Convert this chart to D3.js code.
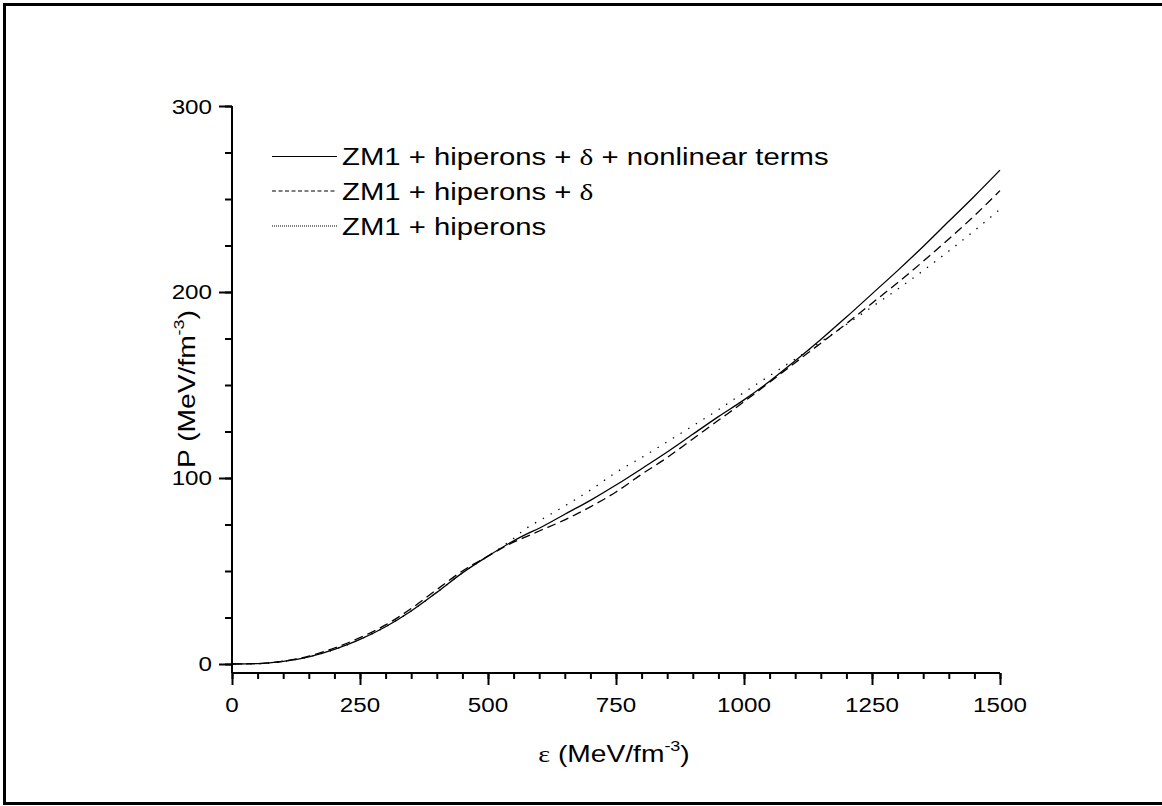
<!DOCTYPE html>
<html>
<head>
<meta charset="utf-8">
<script src="https://cdn.jsdelivr.net/npm/d3@7"></script>
<style>
  html, body { margin: 0; padding: 0; background: #fff; }
  svg { display: block; }
</style>
</head>
<body>
<svg id="chart" width="1162" height="806"></svg>
<script>
// ---- data ----
const energy = [0,50,100,150,200,250,300,350,400,450,500,550,575,600,650,700,750,800,850,900,950,1000,1050,1100,1150,1200,1250,1300,1350,1400,1450,1500];
const pNonlinear = [0,0.2,1.4,3.8,7.8,13.2,20,28.5,38.5,49,58,66.2,69.8,73,80.5,88,96.2,105,114,123.5,133,142,152,163,174.5,186.5,199,211.5,224.5,238,251.5,265.5];
const pDelta     = [0,0.2,1.5,4.2,8.6,14.2,21,29.8,40,50,58,65.5,68.5,71.5,77.5,84.5,92.5,102,111,121,131,141,151.5,162,172.5,183,194,205,216.5,228.5,241,254.5];
const pHyperons  = [0,0.2,1.4,3.8,7.8,13.2,20,28.5,38.5,49,58,67.5,73,77,85,93.5,103,111,119.5,128,136.7,146,155,164,173.2,182.5,192,201.5,211.5,222,233,244.5];
const seriesNames = ["ZM1 + hiperons + \u03b4 + nonlinear terms", "ZM1 + hiperons + \u03b4", "ZM1 + hiperons"];
const xTicks = [0,250,500,750,1000,1250,1500];
const yTicks = [0,100,200,300];

const svg = d3.select("#chart");
const sans = "'Liberation Sans', Arial, sans-serif";
const serif = "'Liberation Serif', 'Times New Roman', serif";

// outer frame
svg.append("rect").attr("x",4.5).attr("y",4.5).attr("width",1170).attr("height",799)
  .attr("fill","none").attr("stroke","#000").attr("stroke-width",3);

const x = d3.scaleLinear().domain([0,1500]).range([232,1000]);
const y = d3.scaleLinear().domain([-4.84,300]).range([673,106]);

// curves
const series = [
  {vals: pNonlinear, dash: null},
  {vals: pDelta, dash: "9,5"},
  {vals: pHyperons, dash: "1.4,7.6"}
];
const line = d3.line().x(d => x(d[0])).y(d => y(d[1])).curve(d3.curveMonotoneX);
series.forEach(s => {
  svg.append("path")
    .attr("d", line(energy.map((e,i) => [e, s.vals[i]])))
    .attr("fill","none").attr("stroke","#000").attr("stroke-width",1.3)
    .attr("stroke-dasharray", s.dash);
});

// stretched text helper (reference text is horizontally wide)
function wideText(px, py, anchor, size, sx, rot) {
  const tr = `translate(${px},${py})` + (rot ? ` rotate(${rot})` : "") + ` scale(${sx},1)`;
  return svg.append("text").attr("transform", tr).attr("text-anchor", anchor)
    .attr("font-family", sans).attr("font-size", size).attr("fill", "#000");
}

// x axis
const xAxis = svg.append("g").attr("transform","translate(0,673)");
xAxis.append("g").call(d3.axisBottom(x).tickValues(d3.range(0,1501,50)).tickSize(6).tickFormat(""))
  .call(g => g.select(".domain").remove())
  .selectAll("line").attr("stroke-width",2);
xAxis.append("g").call(d3.axisBottom(x).tickValues(xTicks).tickSize(12).tickFormat(""))
  .call(g => g.select(".domain").attr("stroke-width",2).attr("d","M232,0H1000"))
  .call(g => g.selectAll("line").attr("stroke-width",2));
xTicks.forEach(v => wideText(x(v), 712, "middle", 20.5, 1.18).text(d3.format("d")(v)));

// y axis
const yAxis = svg.append("g").attr("transform","translate(232,0)");
yAxis.append("g").call(d3.axisLeft(y).tickValues(d3.range(0,301,25)).tickSize(7).tickFormat(""))
  .call(g => g.select(".domain").remove())
  .selectAll("line").attr("stroke-width",2);
yAxis.append("g").call(d3.axisLeft(y).tickValues(yTicks).tickSize(13).tickFormat(""))
  .call(g => g.select(".domain").attr("stroke-width",2).attr("d","M0,106V673"))
  .call(g => g.selectAll("line").attr("stroke-width",2));
yTicks.forEach(v => wideText(212, y(v) + 7.5, "end", 20.5, 1.18).text(d3.format("d")(v)));

// axis titles
const xt = wideText(614, 762, "middle", 23.5, 1.2);
xt.append("tspan").attr("font-family",serif).text("\u03b5");
xt.append("tspan").text(" (MeV/fm");
xt.append("tspan").attr("dy",-11).attr("font-size",15).text("-3");
xt.append("tspan").attr("dy",11).text(")");

const yt = wideText(195, 389, "middle", 23.5, 1.2, -90);
yt.append("tspan").text("P (MeV/fm");
yt.append("tspan").attr("dy",-11).attr("font-size",15).text("-3");
yt.append("tspan").attr("dy",11).text(")");

// legend
const legDash = [null, "4,2.5", "1,1"];
const legRows = [156.5, 191, 226];
seriesNames.forEach((name,i) => {
  svg.append("line").attr("x1",272).attr("x2",337).attr("y1",legRows[i]).attr("y2",legRows[i])
    .attr("stroke","#000").attr("stroke-width",1.2).attr("stroke-dasharray",legDash[i]);
  const t = wideText(342, legRows[i] + 8.5, "start", 24, 1.22);
  const parts = name.split("\u03b4");
  parts.forEach((p,j) => {
    t.append("tspan").text(p);
    if (j < parts.length-1) t.append("tspan").attr("font-family",serif).text("\u03b4");
  });
});
</script>
</body>
</html>
